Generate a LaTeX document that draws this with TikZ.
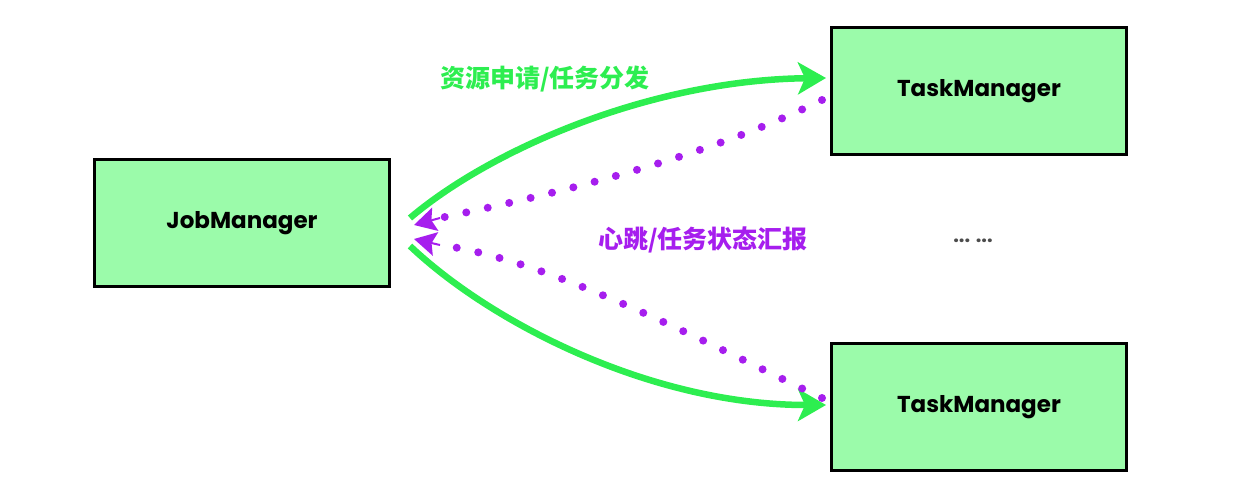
\documentclass[tikz,border=0pt]{standalone}
\usepackage{fontspec}
\setmainfont{Poppins}
\newfontfamily\cjk{Noto Sans CJK SC}
\usetikzlibrary{arrows.meta}
\definecolor{boxfill}{RGB}{155,251,170}
\definecolor{sendgreen}{RGB}{45,238,80}
\definecolor{beatpurple}{RGB}{166,30,238}
\tikzset{
  mgr/.style={draw=black, line width=3pt, fill=boxfill, minimum width=295pt, minimum height=127pt,
    font=\fontsize{23}{26}\selectfont\bfseries},
  sendline/.style={draw=sendgreen, line width=6.5pt, -{Stealth[length=28pt,width=32pt,inset=7pt]}},
  beatline/.style={draw=beatpurple, line width=8pt, line cap=round, dash pattern=on 0pt off 22pt},
  beattip/.style={draw=beatpurple, fill=beatpurple, line width=2pt, -{Stealth[length=22pt,width=24pt,inset=4pt]}},
  lbl/.style={font=\cjk\fontsize{25}{28}\selectfont\bfseries}
}
\begin{document}
\begin{tikzpicture}[x=1pt,y=-1pt]
\useasboundingbox (0,0) rectangle (1248,490);
\node[mgr] (jm) at (242,223) {JobManager};
\node[mgr] (tm1) at (979,91) {TaskManager};
\node[mgr] (tm2) at (979,407) {TaskManager};
\coordinate (jmtop) at (410,218);
\coordinate (jmbot) at (410,246);
\coordinate (jmin1) at (414,225);
\coordinate (jmin2) at (414,239);
\coordinate (tip1) at (440,218);
\coordinate (tip2) at (440,245);
\coordinate (tm1in) at (826,78);
\coordinate (tm2in) at (826,405);
\coordinate (tm1out) at (822,100);
\coordinate (tm2out) at (822,398);
% resource requests / task dispatch
\draw[sendline] (jmtop) .. controls (490,150) and (650,80) .. (tm1in);
\draw[sendline] (jmbot) .. controls (490,322) and (650,405) .. (tm2in);
% heartbeats / task status reports
\draw[beatline] (tm1out) .. controls (700,160) and (550,195) .. (tip1);
\draw[beatline] (tm2out) .. controls (700,340) and (550,260) .. (tip2);
\draw[beattip] (tip1) -- (jmin1);
\draw[beattip] (tip2) -- (jmin2);
\node[lbl, text=sendgreen] (l1) at (545,79) {资源申请/任务分发};
\node[lbl, text=beatpurple] (l2) at (703,240) {心跳/任务状态汇报};
\node[font=\fontsize{20}{22}\selectfont\bfseries, text=black!70] (dots) at (973,241) {... ...};
\end{tikzpicture}
\end{document}
